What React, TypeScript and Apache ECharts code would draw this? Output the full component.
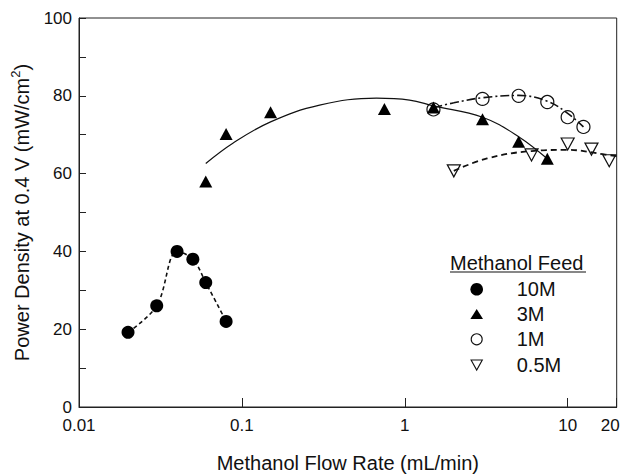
import React, { useEffect, useRef } from "react";
import * as echarts from "echarts";

// ---- Data ----
const x10M = [0.02, 0.03, 0.04, 0.05, 0.06, 0.08];
const y10M = [19.2, 26, 40, 38, 32, 22];

const x3M = [0.06, 0.08, 0.15, 0.75, 1.5, 3, 5, 7.5];
const y3M = [58, 70.2, 75.8, 76.6, 77, 74, 68.2, 63.8];
const fit3MX = [0.06, 0.088, 0.15, 0.3, 0.67, 1.07, 1.5, 3, 5, 7.5];
const fit3MY = [62.6, 67.8, 73.3, 77.6, 79.4, 78.9, 77.4, 74.5, 69.5, 63.8];

const x1M = [1.5, 3, 5, 7.5, 10, 12.5];
const y1M = [76.5, 79.2, 80, 78.4, 74.5, 72];
const fit1MX = [1.5, 2, 3, 5, 7.5, 10, 12.5];
const fit1MY = [76.9, 78.2, 79.5, 80.1, 78.6, 75.5, 72];

const x05M = [2, 6, 10, 14, 18];
const y05M = [60.7, 64.8, 67.6, 66.3, 63.3];
const fit05MX = [2, 3.2, 6, 10, 17, 20];
const fit05MY = [60.7, 63.9, 65.8, 66.1, 64.9, 64.5];

const legendNames = ["10M", "3M", "1M", "0.5M"];
const xTitle = "Methanol Flow Rate (mL/min)";
const legendTitle = "Methanol Feed";

const zip = (xs: number[], ys: number[]) => xs.map((x, i) => [x, ys[i]]);

const FONT = "'Liberation Sans', Arial, Helvetica, sans-serif";
const INK = "#111";

export default function App() {
  const ref = useRef<HTMLDivElement>(null);

  useEffect(() => {
    document.body.style.margin = "0";
    if (!ref.current) return;
    const chart = echarts.init(ref.current, undefined, { renderer: "svg" });

    const legX = 476.7;
    const legTextX = 516.7;
    const rowsY = [289.3, 314, 339.3, 365];

    const option: any = {
      animation: false,
      backgroundColor: "#fff",
      textStyle: { fontFamily: FONT },
      grid: {
        left: 79,
        top: 18,
        right: 8.3,
        bottom: 67,
        containLabel: false,
        outerBoundsMode: "none",
        show: true,
        borderColor: "#222",
        borderWidth: 1,
        backgroundColor: "transparent",
      },
      xAxis: {
        type: "log",
        logBase: 10,
        min: 0.01,
        max: 20,
        name: xTitle,
        nameLocation: "middle",
        nameGap: 46,
        nameTextStyle: { fontSize: 20, lineHeight: 20, color: INK, fontFamily: FONT },
        axisLine: { lineStyle: { color: "#222", width: 1 } },
        axisTick: { inside: true, length: 9, lineStyle: { color: "#222" } },
        minorTick: { show: false },
        splitLine: { show: false },
        axisLabel: {
          fontSize: 17,
          color: INK,
          fontFamily: FONT,
          margin: 10,
          showMaxLabel: true,
          formatter: (v: number) => {
            const r = Math.round(v * 1000) / 1000;
            if (Math.abs(r - 20) < 0.01) return "{r|20}";
            return String(r);
          },
          rich: {
            r: { fontSize: 17, color: INK, fontFamily: FONT, padding: [0, 13, 0, 0] },
          },
        },
      },
      yAxis: {
        type: "value",
        min: 0,
        max: 100,
        interval: 10,
        name: "{a|Power Density at 0.4 V (mW/cm}{s|2}{a|)}",
        nameLocation: "middle",
        nameGap: 44,
        nameRotate: 90,
        nameTextStyle: {
          fontSize: 20,
          color: INK,
          fontFamily: FONT,
          rich: {
            a: { fontSize: 20, lineHeight: 26, color: INK, fontFamily: FONT },
            s: { fontSize: 13, lineHeight: 14, color: INK, fontFamily: FONT, verticalAlign: "top" },
          },
        },
        axisLine: { show: true, lineStyle: { color: "#222", width: 1 } },
        axisTick: { inside: true, length: 7, lineStyle: { color: "#222" } },
        splitLine: { show: false },
        axisLabel: {
          fontSize: 17,
          color: INK,
          fontFamily: FONT,
          margin: 7,
          formatter: (v: number) => (v % 20 === 0 ? String(v) : ""),
        },
      },
      series: [
        // fitted / guide curves
        {
          type: "line",
          data: zip(x10M, y10M),
          smooth: 0.35,
          showSymbol: false,
          symbol: "none",
          lineStyle: { color: INK, width: 1.6, type: [4, 3] },
          z: 1,
        },
        {
          type: "line",
          data: zip(fit3MX, fit3MY),
          smooth: 0.4,
          showSymbol: false,
          symbol: "none",
          lineStyle: { color: INK, width: 1.2, type: "solid" },
          z: 1,
        },
        {
          type: "line",
          data: zip(fit1MX, fit1MY),
          smooth: 0.4,
          showSymbol: false,
          symbol: "none",
          lineStyle: { color: INK, width: 1.6, type: [9, 3, 2, 3] },
          z: 1,
        },
        {
          type: "line",
          data: zip(fit05MX, fit05MY),
          smooth: 0.4,
          showSymbol: false,
          symbol: "none",
          lineStyle: { color: INK, width: 1.8, type: [6, 4] },
          z: 1,
        },
        // data points
        {
          name: legendNames[2],
          type: "scatter",
          data: zip(x1M, y1M),
          symbol: "circle",
          symbolSize: 13,
          itemStyle: { color: "rgba(255,255,255,0)", borderColor: INK, borderWidth: 1.2, opacity: 1 },
          z: 3,
        },
        {
          name: legendNames[3],
          type: "scatter",
          data: zip(x05M, y05M),
          symbol: "path://M0,0L10,0L5,9Z",
          symbolSize: [13, 12],
          itemStyle: { color: "rgba(255,255,255,0)", borderColor: INK, borderWidth: 1.2, opacity: 1 },
          z: 3,
        },
        {
          name: legendNames[0],
          type: "scatter",
          data: zip(x10M, y10M),
          symbol: "circle",
          symbolSize: 13,
          itemStyle: { color: "#000", opacity: 1 },
          z: 4,
        },
        {
          name: legendNames[1],
          type: "scatter",
          data: zip(x3M, y3M),
          symbol: "triangle",
          symbolSize: [13, 12],
          itemStyle: { color: "#000", opacity: 1 },
          z: 4,
        },
      ],
      graphic: [
        {
          type: "text",
          x: 450,
          y: 263,
          style: {
            text: legendTitle,
            font: `20px ${FONT}`,
            fill: INK,
            align: "left",
            verticalAlign: "middle",
          },
        },
        {
          type: "line",
          shape: { x1: 450, y1: 272, x2: 586, y2: 272 },
          style: { stroke: INK, lineWidth: 1.2 },
        },
        {
          type: "circle",
          shape: { cx: legX, cy: rowsY[0], r: 6.3 },
          style: { fill: "#000" },
        },
        {
          type: "polygon",
          shape: {
            points: [
              [legX - 6.3, rowsY[1] + 5],
              [legX + 6.3, rowsY[1] + 5],
              [legX, rowsY[1] - 5],
            ],
          },
          style: { fill: "#000" },
        },
        {
          type: "circle",
          shape: { cx: legX, cy: rowsY[2], r: 5.5 },
          style: { fill: "#fff", stroke: INK, lineWidth: 1.1 },
        },
        {
          type: "polygon",
          shape: {
            points: [
              [legX - 5.6, rowsY[3] - 5],
              [legX + 5.6, rowsY[3] - 5],
              [legX, rowsY[3] + 5],
            ],
          },
          style: { fill: "#fff", stroke: INK, lineWidth: 1.1 },
        },
        ...legendNames.map((n, i) => ({
          type: "text",
          x: legTextX,
          y: rowsY[i],
          style: {
            text: n,
            font: `20px ${FONT}`,
            fill: INK,
            align: "left",
            verticalAlign: "middle",
          },
        })),
      ],
    };

    chart.setOption(option);
    return () => chart.dispose();
  }, []);

  return <div ref={ref} style={{ width: 625, height: 474 }} />;
}
